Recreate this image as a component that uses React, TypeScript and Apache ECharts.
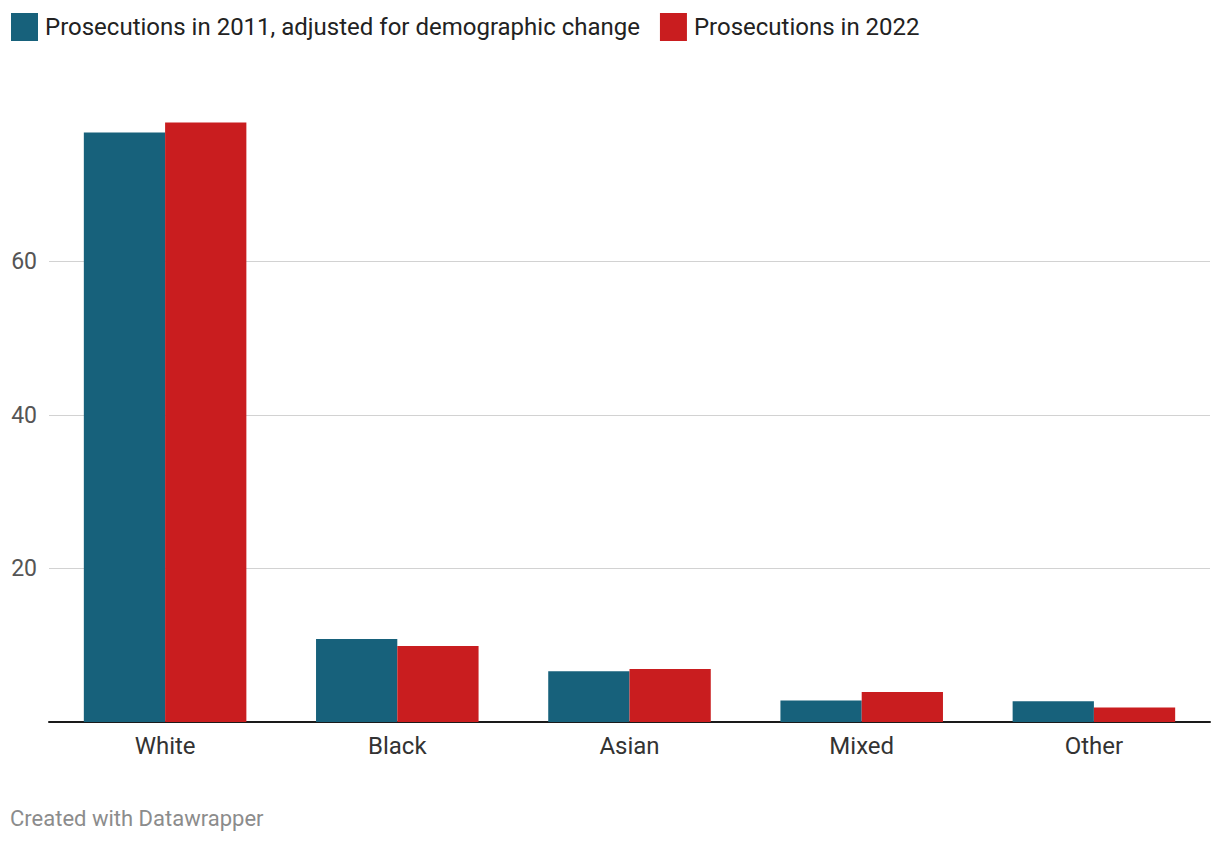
import React, { useEffect, useRef } from "react";
import * as echarts from "echarts";

const categories = ["White", "Black", "Asian", "Mixed", "Other"];
const seriesNames = ["Prosecutions in 2011, adjusted for demographic change", "Prosecutions in 2022"];
const values2011 = [76.8, 10.8, 6.6, 2.8, 2.7];
const values2022 = [78.1, 9.9, 6.9, 3.9, 1.9];
const colors = ["#17617b", "#c91d1f"];

export default function App() {
  const ref = useRef<HTMLDivElement>(null);
  useEffect(() => {
    document.body.style.margin = "0";
    const chart = echarts.init(ref.current!, null, { renderer: "svg" });
    chart.setOption({
      animation: false,
      textStyle: { fontFamily: "Roboto" },
      legend: {
        left: 11,
        top: 13,
        padding: 0,
        icon: "rect",
        itemWidth: 27,
        itemHeight: 28,
        itemGap: 20,
        selectedMode: false,
        textStyle: { fontSize: 24, color: "#222", fontFamily: "Roboto", padding: [0, 0, 0, 2] },
        data: seriesNames,
      },
      grid: { left: 49, right: 10, top: 108, bottom: 122, containLabel: false },
      xAxis: {
        type: "category",
        data: categories,
        axisLine: { show: true, lineStyle: { color: "#1a1a1a", width: 2 } },
        axisTick: { show: false },
        axisLabel: { fontSize: 24, color: "#333", margin: 12, fontFamily: "Roboto" },
      },
      yAxis: {
        type: "value",
        min: 0,
        max: 80,
        interval: 20,
        axisLine: { show: false },
        axisTick: { show: false },
        axisLabel: {
          fontSize: 23,
          color: "#555",
          margin: 12,
          fontFamily: "Roboto",
          showMaxLabel: false,
          formatter: (v: number) => (v === 0 ? "" : String(v)),
        },
        splitLine: { show: true, showMaxLine: false, lineStyle: { color: "#d2d2d2", width: 1 } },
      },
      series: [
        {
          name: seriesNames[0],
          type: "bar",
          data: values2011,
          itemStyle: { color: colors[0] },
          barGap: "0%",
          barCategoryGap: "30%",
        },
        {
          name: seriesNames[1],
          type: "bar",
          data: values2022,
          itemStyle: { color: colors[1] },
          barGap: "0%",
          barCategoryGap: "30%",
        },
      ],
      graphic: [
        {
          type: "text",
          left: 10,
          top: 807,
          style: { text: "Created with Datawrapper", fontSize: 22, fill: "#8c8c8c", fontFamily: "Roboto" },
        },
      ],
    });
    return () => chart.dispose();
  }, []);
  return <div ref={ref} style={{ width: 1220, height: 844 }} />;
}
